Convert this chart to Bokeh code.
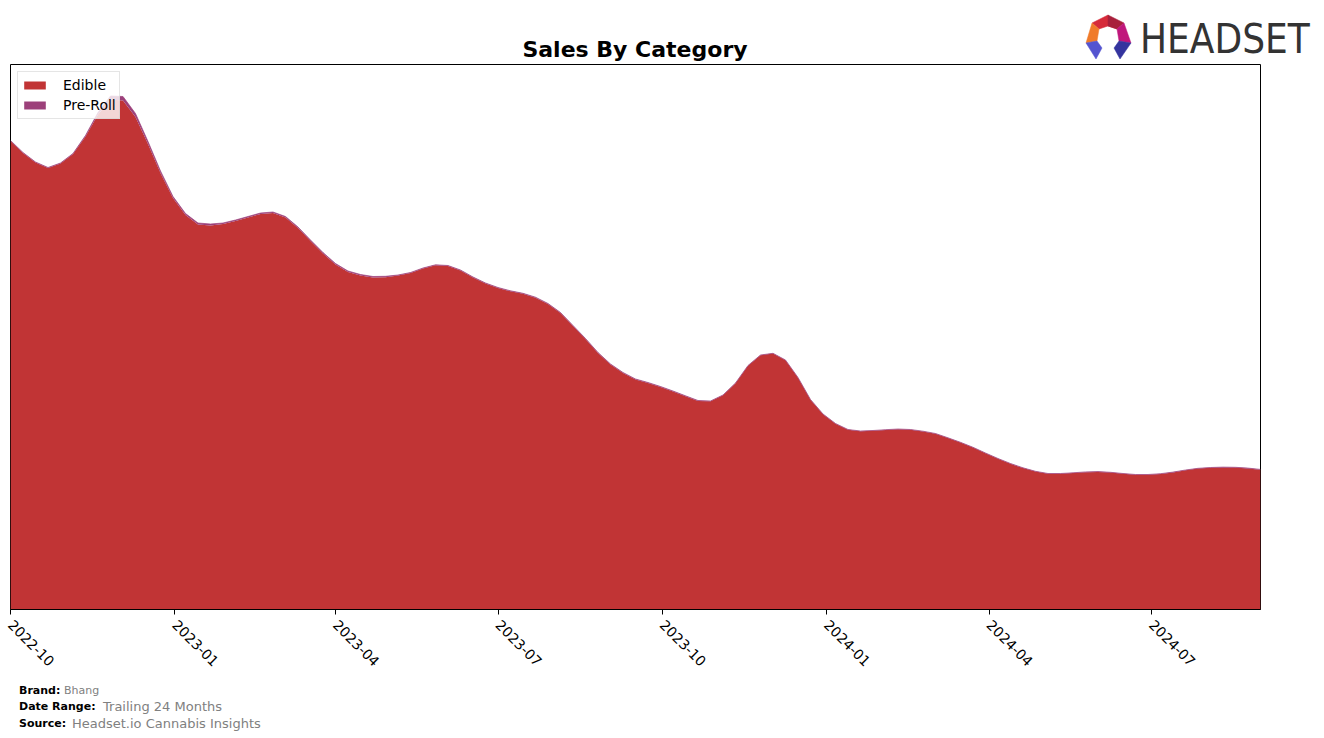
import math
import pandas as pd
from bokeh.plotting import figure
from bokeh.layouts import column
from bokeh.models import (ColumnDataSource, Range1d, FixedTicker, DatetimeTickFormatter,
                          Legend, LegendItem, Div)
from bokeh.embed import file_html
from bokeh.resources import INLINE

# ---- data (weekly samples; arbitrary sales units) ----
start_date = "2022-10-01"
n_weeks = 101
edible = [468.5, 456.5, 447, 441.5, 446, 455.5, 473, 495, 510, 509,
          492.5, 465.5, 436.5, 411.5, 394.5, 385, 384, 385.5, 388.5, 392,
          395.5, 396.5, 392, 381.5, 368.5, 356, 345, 337.5, 334, 332,
          332.2, 334, 336.5, 341, 344.2, 343.5, 339, 332, 326, 321.5,
          318.2, 315.7, 311.8, 305.5, 296.5, 283.5, 270.5, 256.5, 245, 236.5,
          230, 226.5, 222.5, 218, 213.2, 208.5, 208.2, 214.2, 226.2, 243.7,
          254.2, 255.9, 249.2, 231.7, 209.7, 195.2, 185.7, 179.7, 178.2, 178.7,
          179.5, 180.2, 179.7, 178, 175.7, 171.4, 166.9, 161.9, 156.2, 150.7,
          145.7, 141.4, 137.9, 135.7, 135.7, 136.4, 137.3, 137.6, 136.9, 135.7,
          134.7, 134.7, 135.5, 137.1, 139.2, 140.9, 141.7, 142.1, 141.9, 141.1,
          139.8]
preroll = ([0.5] * 6 + [1, 2, 3.5, 4, 3.5, 2.5, 2] + [1.5] * 4 + [1] * 14
           + [0.5] * 25 + [0.3] * 45)
categories = ["Edible", "Pre-Roll"]
colors = ["#c13435", "#9c407a"]
tick_labels = ["2022-10", "2023-01", "2023-04", "2023-07", "2023-10", "2024-01", "2024-04", "2024-07"]
title_text = "Sales By Category"
footer_keys = ["Brand:", "Date Range:", "Source:"]
footer_vals = ["Bhang", "Trailing 24 Months", "Headset.io Cannabis Insights"]

dates = pd.date_range(start_date, periods=n_weeks, freq="7D")
total = [e + r for e, r in zip(edible, preroll)]
src = ColumnDataSource(dict(date=dates, Edible=edible, **{"Pre-Roll": preroll}, total=total))

W = 1324
FONT = "DejaVu Sans"


def svg_text(x, y, txt, size, color, bold=False, family="'DejaVu Sans'", extra="", anchor="start"):
    weight = "bold" if bold else "normal"
    return (f'<text x="{x}" y="{y}" text-anchor="{anchor}" {extra} '
            f'style="font-family:{family};font-size:{size}px;font-weight:{weight};fill:{color}">'
            f'{txt}</text>')


# ---------------- header (title + logo) ----------------
HH = 63
logo_polys = [
    ("1092,23 1108,15 1117,29 1108,26 1099,29", "#d62b3a"),
    ("1108,15 1124,23 1117,29 1108,26", "#a8203c"),
    ("1092,23 1099,29 1097,41 1086,43", "#f07b2a"),
    ("1124,23 1131,43 1119,41 1117,29", "#c0177c"),
    ("1086,43 1097,41 1102,48 1096,59", "#5454d0"),
    ("1131,43 1119,41 1114,48 1120,59", "#34349e"),
]
poly_svg = "".join(f'<polygon points="{pts}" fill="{c}" stroke="{c}" stroke-width="0.5"/>'
                   for pts, c in logo_polys)
header_html = (
    f'<svg xmlns="http://www.w3.org/2000/svg" width="{W}" height="{HH}" style="display:block">'
    + svg_text(635, 57, title_text, 22, "#000000", bold=True, anchor="middle")
    + poly_svg
    + svg_text(1140, 53, "HEADSET", 40, "#333333",
               family="'DejaVu Sans Condensed','DejaVu Sans'")
    + '</svg>'
)
hdr = Div(text=header_html, width=W, height=HH, margin=0, styles={"padding": "0", "margin": "0"})

# ---------------- main chart ----------------
TOP, FRAME_H, BOT = 64 - HH, 545, 66
p = figure(width=W, height=TOP + FRAME_H + BOT, output_backend="svg", toolbar_location=None,
           title=None, x_axis_type="datetime",
           x_range=Range1d(dates[0], dates[-1]),
           y_range=Range1d(0, 545),
           min_border_left=10, min_border_right=64, min_border_top=TOP, min_border_bottom=BOT,
           margin=0)
p.xgrid.visible = False
p.ygrid.visible = False
p.yaxis.visible = False
p.outline_line_color = "black"
p.outline_line_width = 1

rs = p.varea_stack(stackers=categories, x="date", color=colors, source=src)
p.line("date", "total", source=src, line_color=colors[1], line_width=1, line_alpha=0.7)

ticks = [pd.Timestamp(t + "-01").value / 1e6 for t in tick_labels]
ax = p.xaxis[0]
ax.ticker = FixedTicker(ticks=ticks)
fmt = "%Y-%m"
ax.formatter = DatetimeTickFormatter(years=fmt, months=fmt, days=fmt, hours=fmt,
                                     minutes=fmt, hourmin=fmt, seconds=fmt, minsec=fmt)
ax.major_label_orientation = -math.pi / 4
ax.major_label_text_font = FONT
ax.major_label_text_font_size = "14px"
ax.major_label_text_color = "black"
ax.major_tick_out = 5
ax.major_tick_in = 0
ax.minor_tick_out = 0
ax.minor_tick_in = 0
ax.axis_line_color = "black"
ax.major_label_standoff = 8

legend = Legend(items=[LegendItem(label=c, renderers=[r]) for c, r in zip(categories, rs)],
                location="top_left", margin=7, padding=3, spacing=0,
                label_text_font=FONT, label_text_font_size="14px", label_text_color="black",
                glyph_width=27, glyph_height=10, label_standoff=15, label_height=20,
                border_line_color="#cccccc", border_line_width=1,
                background_fill_alpha=0.8)
p.add_layout(legend)

# ---------------- footer ----------------
FY0 = 64 + FRAME_H + BOT
FH = 738 - FY0
rows_base = [694, 710, 727]
val_x = [64, 103, 72]
val_size = [11, 13, 13]
parts = []
for k, v, yb, vx, vs in zip(footer_keys, footer_vals, rows_base, val_x, val_size):
    parts.append(svg_text(19, yb - FY0, k, 11, "#000000", bold=True))
    parts.append(svg_text(vx, yb - FY0 + (1 if vs == 13 else 0), v, vs, "#808080"))
footer_html = (f'<svg xmlns="http://www.w3.org/2000/svg" width="{W}" height="{FH}" '
               f'style="display:block">' + "".join(parts) + '</svg>')
ftr = Div(text=footer_html, width=W, height=FH, margin=0, styles={"padding": "0", "margin": "0"})

layout = column(hdr, p, ftr, spacing=0, margin=0)
open("out.html", "w").write(file_html(layout, INLINE))
